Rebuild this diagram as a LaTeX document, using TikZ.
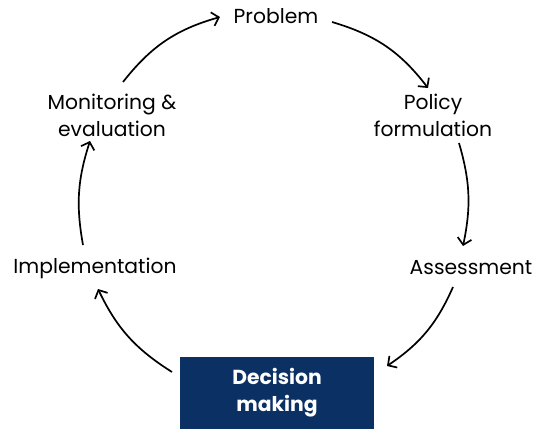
\documentclass[tikz,border=0pt]{standalone}
\usepackage{fontspec}
\setmainfont{Poppins}
\usetikzlibrary{arrows.meta}
\definecolor{navy}{HTML}{0B3063}
\tikzset{
  lbl/.style={font=\fontsize{20.3}{27}\selectfont, align=center, inner sep=0pt},
  box/.style={fill=navy, text=white, font=\fontsize{20.3}{27}\selectfont\bfseries, align=center, minimum width=194pt, minimum height=72pt, inner sep=0pt},
  cyc/.style={line width=1.7pt, -{Straight Barb[length=6.5pt,width=14pt,line width=1.7pt]}},
}
\begin{document}
\begin{tikzpicture}[x=1pt,y=-1pt]
\useasboundingbox (0,0) rectangle (536,429);
\node[lbl] (prob) at (276,16) {Problem};
\node[lbl] (pol) at (433,115) {Policy\\formulation};
\node[lbl] (ass) at (471,268) {Assessment};
\node[box] (dec) at (277,393) {Decision\\making};
\node[lbl] (imp) at (95,268) {Implementation};
\node[lbl] (mon) at (112,115) {Monitoring \&\\evaluation};
\coordinate (a1s) at (123,82);  \coordinate (a1e) at (220,17);
\coordinate (a2s) at (332,22);  \coordinate (a2e) at (428,88);
\coordinate (a3s) at (459,143); \coordinate (a3e) at (463,246);
\coordinate (a4s) at (453,287); \coordinate (a4e) at (387,366);
\coordinate (a5s) at (172,372); \coordinate (a5e) at (98,289);
\coordinate (a6s) at (83,245);  \coordinate (a6e) at (90,141);
\draw[cyc] (a1s) to[bend left=18] (a1e);
\draw[cyc] (a2s) to[bend left=18] (a2e);
\draw[cyc] (a3s) to[bend left=14] (a3e);
\draw[cyc] (a4s) to[bend left=16] (a4e);
\draw[cyc] (a5s) to[bend left=16] (a5e);
\draw[cyc] (a6s) to[bend left=14] (a6e);
\end{tikzpicture}
\end{document}
